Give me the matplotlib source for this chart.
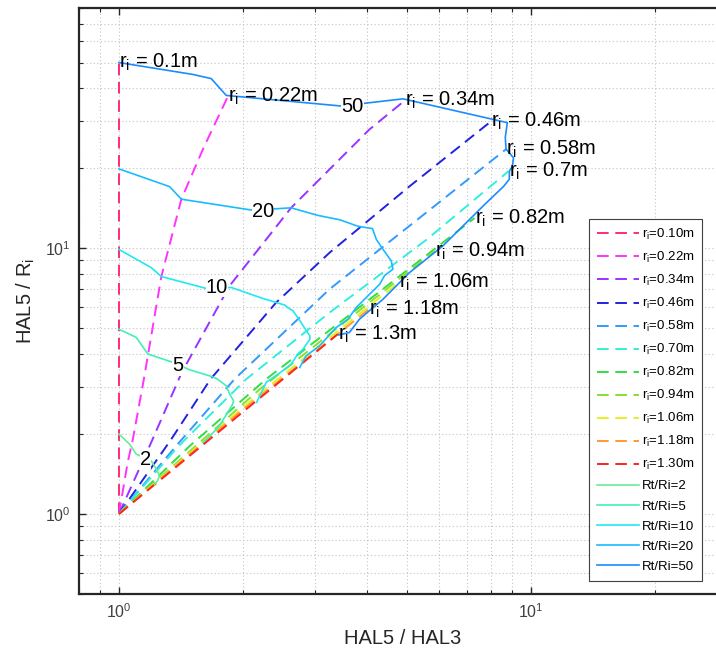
import numpy as np
import matplotlib
matplotlib.use("Agg")
import matplotlib.pyplot as plt
from matplotlib.ticker import LogLocator, NullFormatter

plt.rcParams['font.family'] = ['Liberation Sans', 'DejaVu Sans']
plt.rcParams['mathtext.fontset'] = 'custom'
plt.rcParams['mathtext.rm'] = 'Liberation Sans'
plt.rcParams['mathtext.it'] = 'Liberation Sans:italic'

# dashed curves, one per inner radius (HAL5/HAL3, HAL5/Ri)
radii = ['0.10', '0.22', '0.34', '0.46', '0.58', '0.70', '0.82', '0.94', '1.06', '1.18', '1.30']
radii_tag = ['0.1', '0.22', '0.34', '0.46', '0.58', '0.7', '0.82', '0.94', '1.06', '1.18', '1.3']
ri_colors = ['#ff2b7a', '#ff33ff', '#9933ff', '#2222e0', '#3399ff', '#33eedd',
             '#33dd44', '#88e030', '#e6f020', '#ff9933', '#ff2222']
ri_x = [
    [1.0, 1.0],
    [1.0, 1.05, 1.081, 1.15, 1.268, 1.418, 1.606, 1.84],
    [1.0, 1.2, 1.42, 1.857, 2.62, 4.06, 4.95],
    [1.0, 1.34, 1.67, 2.41, 3.25, 5.08, 8.03],
    [1.0, 1.38, 1.91, 3.25, 5.32, 8.72],
    [1.0, 1.40, 2.04, 3.25, 5.6, 8.84],
    [1.0, 1.49, 2.28, 4.0, 7.31],
    [1.0, 2.2, 5.85],
    [1.0, 2.1, 4.78],
    [1.0, 2.0, 4.05],
    [1.0, 2.0, 3.40],
]
ri_y = [
    [1.0, 50.0],
    [1.0, 1.56, 1.91, 3.22, 7.83, 15.3, 23.9, 37.3],
    [1.0, 1.87, 3.4, 7.22, 14.2, 28.0, 36.0],
    [1.0, 1.91, 3.22, 6.25, 9.63, 17.1, 30.1],
    [1.0, 1.81, 3.22, 7.02, 12.85, 23.6],
    [1.0, 1.81, 3.22, 5.73, 10.8, 19.5],
    [1.0, 1.81, 3.22, 6.3, 13.0],
    [1.0, 2.95, 9.77],
    [1.0, 2.68, 7.43],
    [1.0, 2.47, 5.90],
    [1.0, 2.42, 4.75],
]

# contour lines of constant Rt/Ri
levels = [2, 5, 10, 20, 50]
lvl_colors = ['#66ee99', '#44eebb', '#22e8f0', '#19bbff', '#1a8cff']
lvl_x = [
    [1.0, 1.062, 1.102, 1.198, 1.233, 1.256, 1.24, 1.22],
    [1.0, 1.102, 1.176, 1.353, 1.485, 1.661, 1.724, 1.823, 1.857, 1.899, 1.89,
     1.806, 1.757, 1.661, 1.60],
    [1.0, 1.198, 1.268, 1.63, 1.875, 2.24, 2.53, 2.57, 2.65, 2.77, 2.83, 2.91,
     2.91, 2.80, 2.72, 2.62, 2.50, 2.28, 2.16],
    [1.0, 1.328, 1.418, 2.116, 2.62, 3.04, 3.44, 3.81, 4.13, 4.22, 4.38, 4.59,
     4.63, 4.42, 4.30, 4.06, 3.77, 3.60, 3.37, 3.07, 2.85, 2.75],
    [1.0, 1.513, 1.676, 1.823, 3.47, 4.06, 4.90, 8.78, 8.68, 8.72, 9.09, 9.03,
     8.88, 8.88, 8.60, 7.80, 7.38, 6.12, 5.08, 4.38, 3.84, 3.63, 3.42],
]
lvl_y = [
    [2.0, 1.83, 1.68, 1.587, 1.476, 1.393, 1.33, 1.29],
    [4.96, 4.62, 4.0, 3.72, 3.49, 3.31, 3.24, 3.04, 2.83, 2.67, 2.59,
     2.31, 2.15, 1.96, 1.86],
    [9.9, 8.46, 7.83, 7.06, 7.12, 6.47, 6.11, 5.98, 5.81, 5.26, 4.99, 4.68,
     4.55, 4.17, 4.0, 3.66, 3.46, 3.13, 2.63],
    [19.9, 17.06, 15.3, 13.9, 14.2, 13.3, 12.8, 12.1, 11.86, 10.8, 9.91, 8.96,
     8.34, 7.9, 7.32, 6.71, 5.98, 5.41, 5.03, 4.29, 3.94, 3.56],
    [50.0, 45.1, 43.5, 37.6, 34.3, 35.3, 36.5, 29.7, 26.1, 23.6, 21.9, 20.3,
     19.5, 18.2, 17.1, 14.8, 13.6, 10.2, 8.1, 6.43, 5.41, 4.82, 4.72],
]
# inline contour label positions
lvl_lab_x = [1.161, 1.391, 1.73, 2.24, 3.69]
lvl_lab_y = [1.61, 3.61, 7.12, 13.7, 34.1]

fig = plt.figure(figsize=(7.16, 6.52), dpi=100)
ax = fig.add_axes([79 / 716, 58 / 652, 648 / 716, 585.7 / 652])
ax.set_xscale('log')
ax.set_yscale('log')

for i in range(len(radii)):
    ax.plot(ri_x[i], ri_y[i], color=ri_colors[i], lw=1.4, dashes=(6, 3.4),
            label=r'r$_{\rm i}$=' + radii[i] + 'm', zorder=2)

for i in range(len(levels)):
    ax.plot(lvl_x[i], lvl_y[i], color=lvl_colors[i], lw=1.2,
            label='Rt/Ri=%d' % levels[i], zorder=2.5)
    ax.text(lvl_lab_x[i], lvl_lab_y[i], str(levels[i]), fontsize=14.5,
            ha='center', va='center', zorder=3,
            bbox=dict(facecolor='white', edgecolor='none', pad=0.2))

for i in range(len(radii)):
    ax.text(ri_x[i][-1], ri_y[i][-1], r'r$_{\rm i}$ = ' + radii_tag[i] + 'm',
            fontsize=14.5, ha='left', va='center', zorder=4)

ax.set_xlim(0.8, 30)
ax.set_ylim(0.5, 80)

ax.xaxis.set_major_locator(LogLocator(base=10, numticks=10))
ax.yaxis.set_major_locator(LogLocator(base=10, numticks=10))
ax.xaxis.set_minor_locator(LogLocator(base=10, subs=np.arange(2, 10), numticks=20))
ax.yaxis.set_minor_locator(LogLocator(base=10, subs=np.arange(2, 10), numticks=20))
ax.xaxis.set_minor_formatter(NullFormatter())
ax.yaxis.set_minor_formatter(NullFormatter())

ax.grid(True, which='both', color='#c4c4c4', linestyle=(0, (1, 2.2)), lw=0.8)
ax.set_axisbelow(True)
ax.tick_params(which='both', direction='in', top=True, right=True,
               colors='#262626', labelcolor='#404040', labelsize=11.5)
ax.tick_params(which='major', length=5, width=1.0, pad=6)
ax.tick_params(which='minor', length=3, width=0.8)
for s in ax.spines.values():
    s.set_linewidth(1.6)
    s.set_color('#262626')

ax.set_xlabel('HAL5 / HAL3', fontsize=14.5, color='#262626', labelpad=6)
ax.set_ylabel(r'HAL5 / R$_{\rm i}$', fontsize=14.5, color='#262626', labelpad=6)

leg = ax.legend(loc='upper left', bbox_to_anchor=(0.787, 0.640), borderaxespad=0,
                fontsize=9.5, handlelength=3.2, handletextpad=0.2,
                labelspacing=0.6, borderpad=0.6, fancybox=False, framealpha=1)
leg.get_frame().set_edgecolor('#404040')
leg.get_frame().set_linewidth(0.8)

fig.savefig('out.png', dpi=100)
